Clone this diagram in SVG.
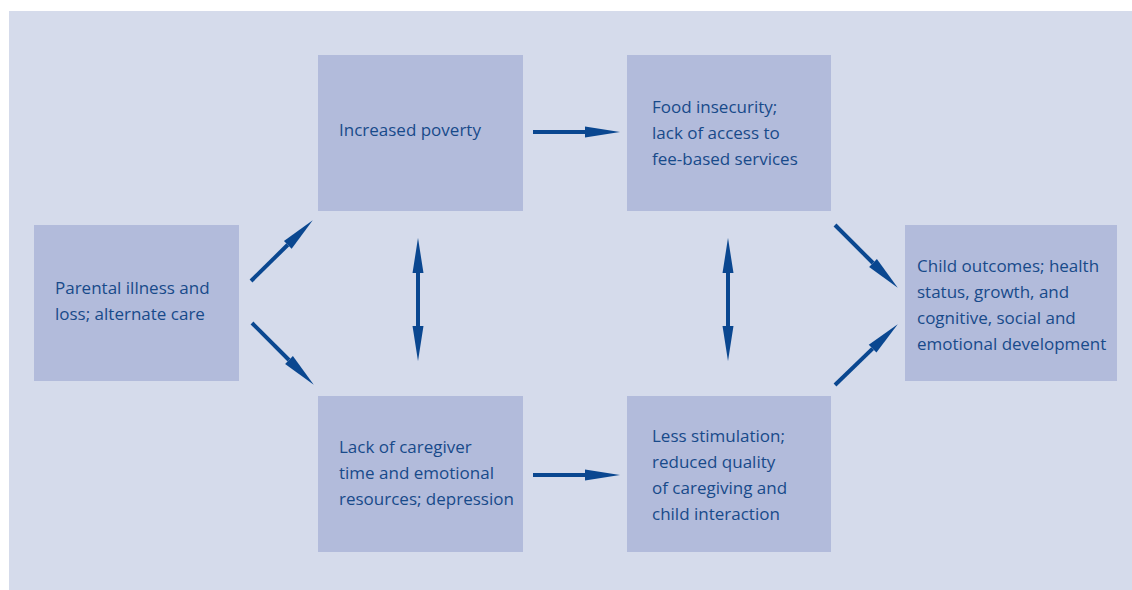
<svg xmlns="http://www.w3.org/2000/svg" width="1132" height="590" viewBox="0 0 1132 590">
  <style>
    .bg { fill: #d5dbeb; }
    .box { fill: #b2bbdb; }
    .lbl { font-family: "Open Sans", "Noto Sans", "Liberation Sans", sans-serif; font-size: 17px; fill: #184a8a; }
    .arr { stroke: #0a4790; stroke-width: 4; fill: none; stroke-linecap: butt; }
  </style>
  <defs>
    <marker id="head" markerUnits="userSpaceOnUse" markerWidth="36" markerHeight="12" refX="0" refY="6" orient="auto-start-reverse" overflow="visible">
      <path d="M0,0.5 L35,6 L0,11.5 z" fill="#0a4790"/>
    </marker>
  </defs>
  <rect class="bg" x="9" y="11" width="1123" height="579"/>

  <g id="node-parental">
    <rect class="box" x="34" y="225" width="205" height="156"/>
    <text class="lbl" x="55" y="294">Parental illness and</text>
    <text class="lbl" x="55" y="320">loss; alternate care</text>
  </g>
  <g id="node-poverty">
    <rect class="box" x="318" y="55" width="205" height="156"/>
    <text class="lbl" x="339" y="136">Increased poverty</text>
  </g>
  <g id="node-food">
    <rect class="box" x="627" y="55" width="204" height="156"/>
    <text class="lbl" x="652" y="113">Food insecurity;</text>
    <text class="lbl" x="652" y="139">lack of access to</text>
    <text class="lbl" x="652" y="165">fee-based services</text>
  </g>
  <g id="node-caregiver">
    <rect class="box" x="318" y="396" width="205" height="156"/>
    <text class="lbl" x="339" y="453">Lack of caregiver</text>
    <text class="lbl" x="339" y="479">time and emotional</text>
    <text class="lbl" x="339" y="505">resources; depression</text>
  </g>
  <g id="node-stimulation">
    <rect class="box" x="627" y="396" width="204" height="156"/>
    <text class="lbl" x="652" y="442">Less stimulation;</text>
    <text class="lbl" x="652" y="468">reduced quality</text>
    <text class="lbl" x="652" y="494">of caregiving and</text>
    <text class="lbl" x="652" y="520">child interaction</text>
  </g>
  <g id="node-outcomes">
    <rect class="box" x="905" y="225" width="212" height="156"/>
    <text class="lbl" x="917" y="272">Child outcomes; health</text>
    <text class="lbl" x="917" y="298">status, growth, and</text>
    <text class="lbl" x="917" y="324">cognitive, social and</text>
    <text class="lbl" x="917" y="350">emotional development</text>
  </g>

  <g id="connectors">
    <line class="arr" x1="251" y1="281" x2="287.8" y2="244.8" marker-end="url(#head)"/>
    <line class="arr" x1="252" y1="323" x2="289" y2="360" marker-end="url(#head)"/>
    <line class="arr" x1="533" y1="132" x2="585" y2="132" marker-end="url(#head)"/>
    <line class="arr" x1="533" y1="475" x2="585" y2="475" marker-end="url(#head)"/>
    <line class="arr" x1="418" y1="273" x2="418" y2="326" marker-start="url(#head)" marker-end="url(#head)"/>
    <line class="arr" x1="728" y1="273" x2="728" y2="326" marker-start="url(#head)" marker-end="url(#head)"/>
    <line class="arr" x1="835" y1="225" x2="873" y2="263" marker-end="url(#head)"/>
    <line class="arr" x1="835" y1="385" x2="872.6" y2="348.6" marker-end="url(#head)"/>
  </g>
</svg>
